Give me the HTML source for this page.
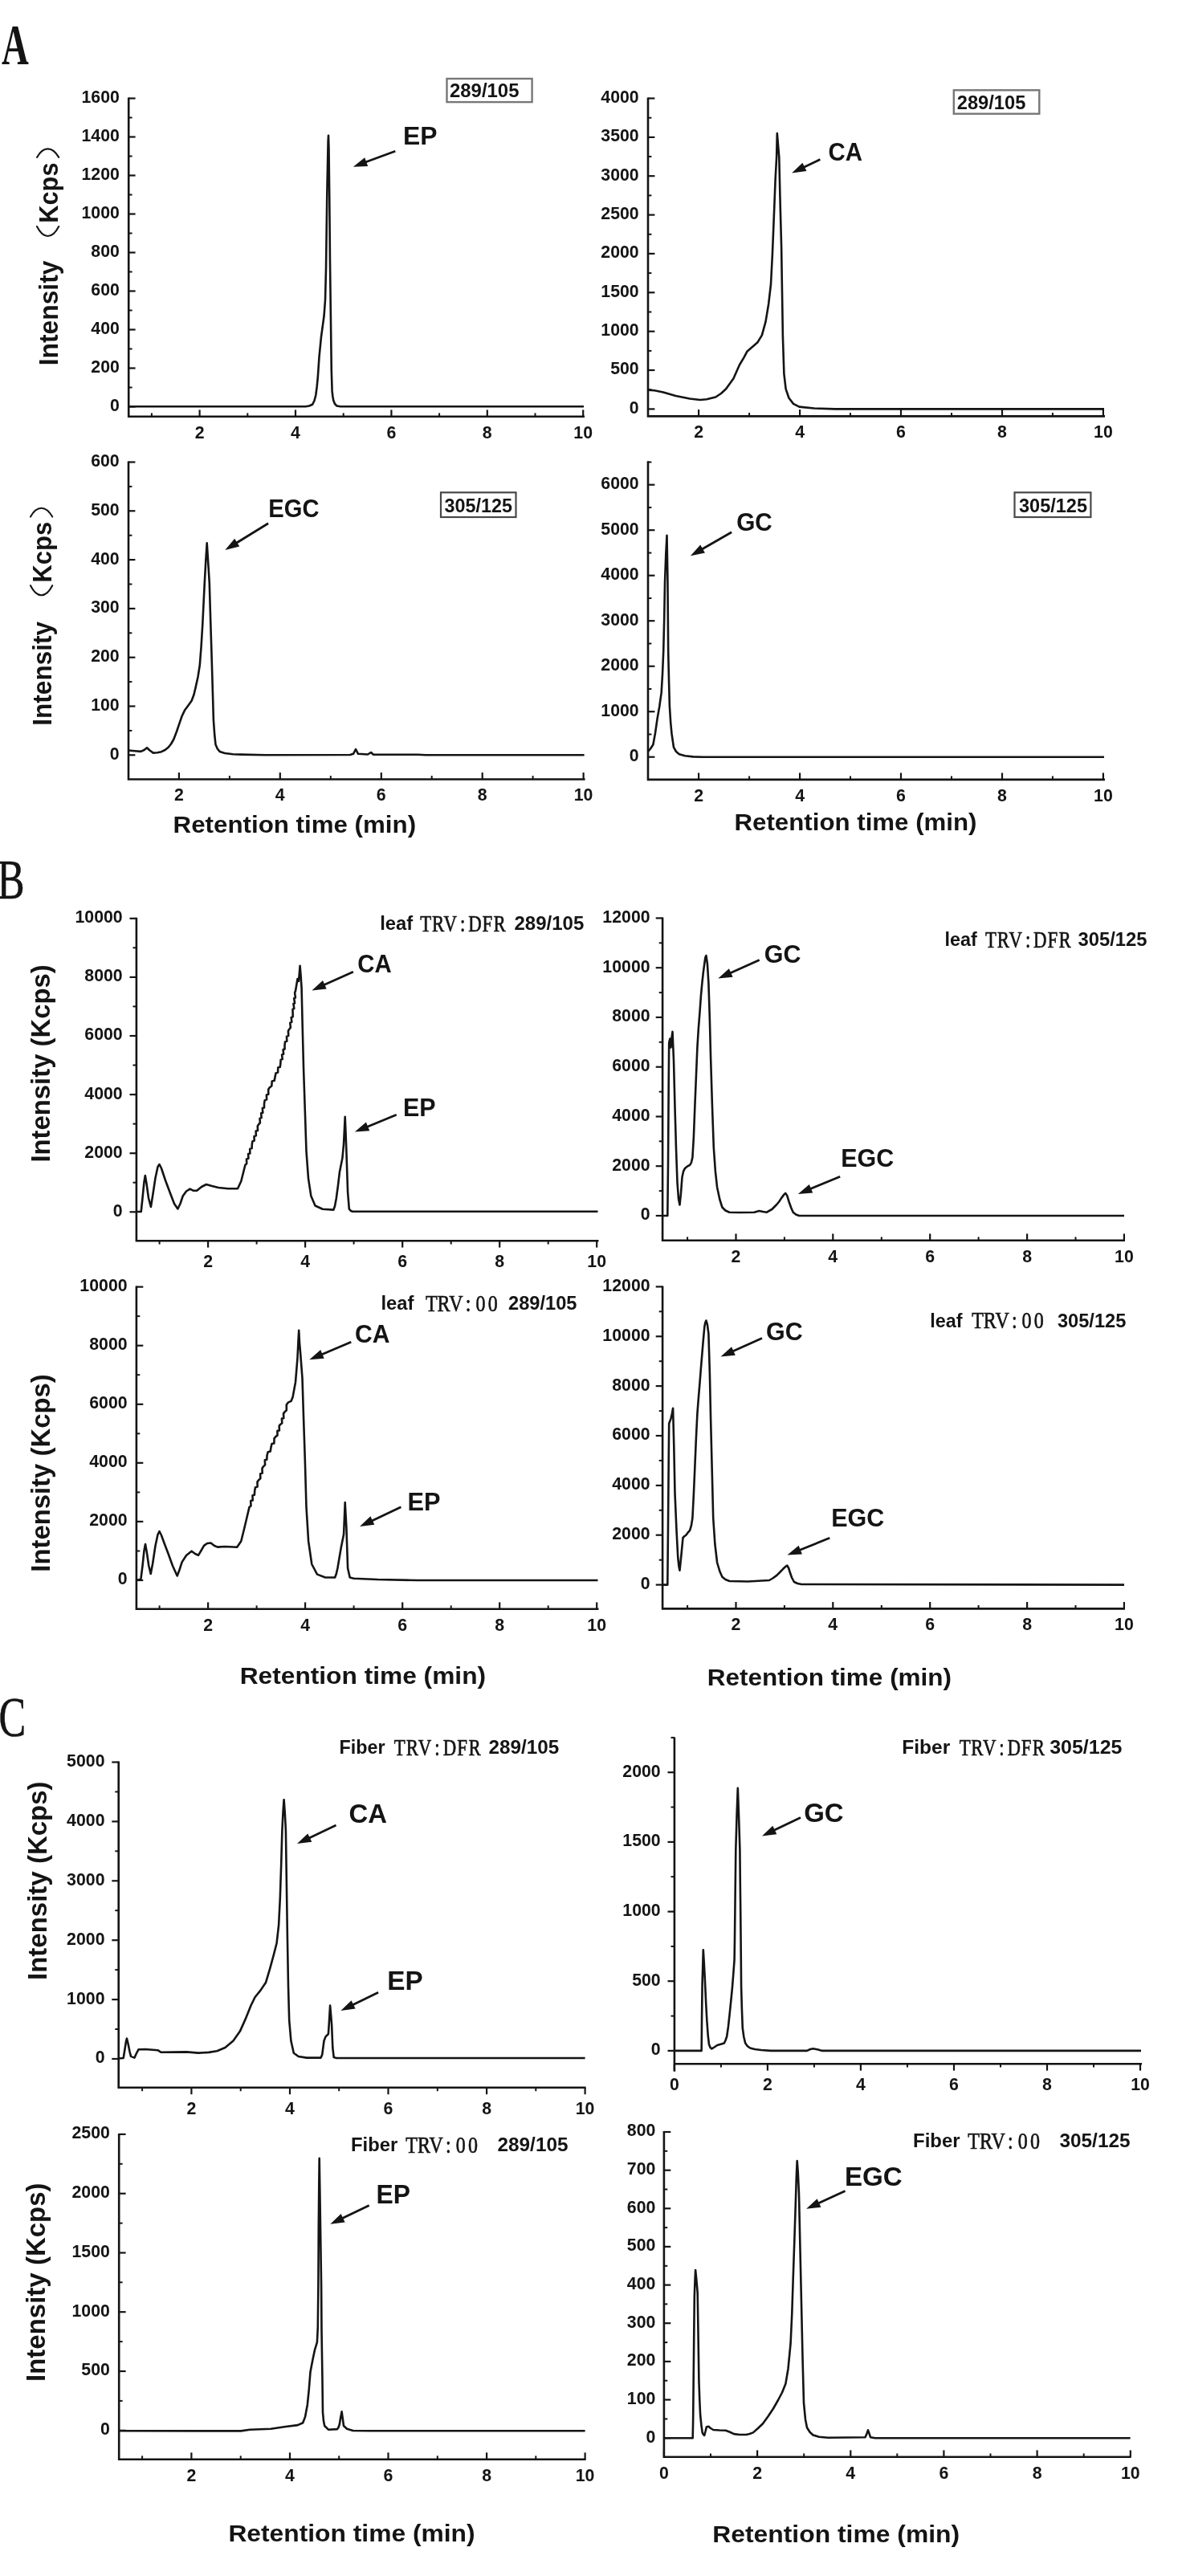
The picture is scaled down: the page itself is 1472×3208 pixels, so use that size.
<!DOCTYPE html>
<html><head><meta charset="utf-8"><title>Figure</title>
<style>
html,body{margin:0;padding:0;background:#fff;}
body{width:1472px;height:3208px;overflow:hidden;font-family:"Liberation Sans",sans-serif;}
svg{display:block;filter:blur(0.55px);}
text{fill:#141414;white-space:pre;}
</style></head><body>
<svg width="1472" height="3208" viewBox="0 0 1472 3208">
<rect width="1472" height="3208" fill="#fff"/>
<path d="M160.2 121.5V518.8M158.9 518.8H728" fill="none" stroke="#141414" stroke-width="2.6"/>
<line x1="160.2" x2="168.6" y1="122.5" y2="122.5" stroke="#141414" stroke-width="2.2"/>
<text x="148.9" y="127.9" font-size="21.3" text-anchor="end" font-weight="bold" font-family="Liberation Sans, sans-serif" >1600</text>
<line x1="160.2" x2="168.6" y1="170.5" y2="170.5" stroke="#141414" stroke-width="2.2"/>
<text x="148.9" y="175.9" font-size="21.3" text-anchor="end" font-weight="bold" font-family="Liberation Sans, sans-serif" >1400</text>
<line x1="160.2" x2="168.6" y1="218.5" y2="218.5" stroke="#141414" stroke-width="2.2"/>
<text x="148.9" y="223.9" font-size="21.3" text-anchor="end" font-weight="bold" font-family="Liberation Sans, sans-serif" >1200</text>
<line x1="160.2" x2="168.6" y1="266.5" y2="266.5" stroke="#141414" stroke-width="2.2"/>
<text x="148.9" y="271.9" font-size="21.3" text-anchor="end" font-weight="bold" font-family="Liberation Sans, sans-serif" >1000</text>
<line x1="160.2" x2="168.6" y1="314.5" y2="314.5" stroke="#141414" stroke-width="2.2"/>
<text x="148.9" y="319.9" font-size="21.3" text-anchor="end" font-weight="bold" font-family="Liberation Sans, sans-serif" >800</text>
<line x1="160.2" x2="168.6" y1="362.5" y2="362.5" stroke="#141414" stroke-width="2.2"/>
<text x="148.9" y="367.9" font-size="21.3" text-anchor="end" font-weight="bold" font-family="Liberation Sans, sans-serif" >600</text>
<line x1="160.2" x2="168.6" y1="410.5" y2="410.5" stroke="#141414" stroke-width="2.2"/>
<text x="148.9" y="415.9" font-size="21.3" text-anchor="end" font-weight="bold" font-family="Liberation Sans, sans-serif" >400</text>
<line x1="160.2" x2="168.6" y1="458.5" y2="458.5" stroke="#141414" stroke-width="2.2"/>
<text x="148.9" y="463.9" font-size="21.3" text-anchor="end" font-weight="bold" font-family="Liberation Sans, sans-serif" >200</text>
<line x1="160.2" x2="168.6" y1="506.5" y2="506.5" stroke="#141414" stroke-width="2.2"/>
<text x="148.9" y="511.9" font-size="21.3" text-anchor="end" font-weight="bold" font-family="Liberation Sans, sans-serif" >0</text>
<line x1="160.2" x2="164.6" y1="146.5" y2="146.5" stroke="#141414" stroke-width="2"/>
<line x1="160.2" x2="164.6" y1="194.5" y2="194.5" stroke="#141414" stroke-width="2"/>
<line x1="160.2" x2="164.6" y1="242.5" y2="242.5" stroke="#141414" stroke-width="2"/>
<line x1="160.2" x2="164.6" y1="290.5" y2="290.5" stroke="#141414" stroke-width="2"/>
<line x1="160.2" x2="164.6" y1="338.5" y2="338.5" stroke="#141414" stroke-width="2"/>
<line x1="160.2" x2="164.6" y1="386.5" y2="386.5" stroke="#141414" stroke-width="2"/>
<line x1="160.2" x2="164.6" y1="434.5" y2="434.5" stroke="#141414" stroke-width="2"/>
<line x1="160.2" x2="164.6" y1="482.5" y2="482.5" stroke="#141414" stroke-width="2"/>
<line x1="248.6" x2="248.6" y1="518.8" y2="510.4" stroke="#141414" stroke-width="2.2"/>
<text x="248.6" y="545.7" font-size="21.3" text-anchor="middle" font-weight="bold" font-family="Liberation Sans, sans-serif" >2</text>
<line x1="368" x2="368" y1="518.8" y2="510.4" stroke="#141414" stroke-width="2.2"/>
<text x="368" y="545.7" font-size="21.3" text-anchor="middle" font-weight="bold" font-family="Liberation Sans, sans-serif" >4</text>
<line x1="487.4" x2="487.4" y1="518.8" y2="510.4" stroke="#141414" stroke-width="2.2"/>
<text x="487.4" y="545.7" font-size="21.3" text-anchor="middle" font-weight="bold" font-family="Liberation Sans, sans-serif" >6</text>
<line x1="606.8" x2="606.8" y1="518.8" y2="510.4" stroke="#141414" stroke-width="2.2"/>
<text x="606.8" y="545.7" font-size="21.3" text-anchor="middle" font-weight="bold" font-family="Liberation Sans, sans-serif" >8</text>
<line x1="726.2" x2="726.2" y1="518.8" y2="510.4" stroke="#141414" stroke-width="2.2"/>
<text x="726.2" y="545.7" font-size="21.3" text-anchor="middle" font-weight="bold" font-family="Liberation Sans, sans-serif" >10</text>
<line x1="188.9" x2="188.9" y1="518.8" y2="514.4" stroke="#141414" stroke-width="2"/>
<line x1="308.3" x2="308.3" y1="518.8" y2="514.4" stroke="#141414" stroke-width="2"/>
<line x1="427.7" x2="427.7" y1="518.8" y2="514.4" stroke="#141414" stroke-width="2"/>
<line x1="547.1" x2="547.1" y1="518.8" y2="514.4" stroke="#141414" stroke-width="2"/>
<line x1="666.5" x2="666.5" y1="518.8" y2="514.4" stroke="#141414" stroke-width="2"/>
<polyline points="160.2,506.3 380.6,506.3 385,505.5 389,503.8 391.5,499 393.3,492 394.6,482 395.8,470 397.5,444.6 400,419.2 403.5,393.8 405,373.5 406,334.6 407.3,241.5 408.6,176 409,168.8 409.5,185 410.2,241.5 411,326 411.9,393.8 412.8,461.5 413.6,486.9 414.4,494 415.3,498.7 417,503 419.5,505.5 424,506.3 727,506.3" fill="none" stroke="#141414" stroke-width="2.6" stroke-linejoin="round" stroke-linecap="butt"/>
<line x1="492.3" y1="188.2" x2="454.3" y2="202.3" stroke="#141414" stroke-width="2.8"/>
<polygon points="439.8,207.7 454.2,196.2 458.2,207" fill="#141414"/>
<text x="502" y="179.5" font-size="32" text-anchor="start" font-weight="bold" font-family="Liberation Sans, sans-serif" textLength="42.5" lengthAdjust="spacingAndGlyphs" >EP</text>
<text x="560" y="121.3" font-size="24" text-anchor="start" font-weight="bold" font-family="Liberation Sans, sans-serif" textLength="86.5" lengthAdjust="spacingAndGlyphs" >289/105</text>
<rect x="556.5" y="98" width="106.1" height="29.1" fill="none" stroke="#777" stroke-width="2.4"/>
<path d="M807 121.5V518.4M805.7 518.4H1376" fill="none" stroke="#141414" stroke-width="2.6"/>
<line x1="807" x2="815.4" y1="122.5" y2="122.5" stroke="#141414" stroke-width="2.2"/>
<text x="795.7" y="127.9" font-size="21.3" text-anchor="end" font-weight="bold" font-family="Liberation Sans, sans-serif" >4000</text>
<line x1="807" x2="815.4" y1="170.9" y2="170.9" stroke="#141414" stroke-width="2.2"/>
<text x="795.7" y="176.3" font-size="21.3" text-anchor="end" font-weight="bold" font-family="Liberation Sans, sans-serif" >3500</text>
<line x1="807" x2="815.4" y1="219.2" y2="219.2" stroke="#141414" stroke-width="2.2"/>
<text x="795.7" y="224.6" font-size="21.3" text-anchor="end" font-weight="bold" font-family="Liberation Sans, sans-serif" >3000</text>
<line x1="807" x2="815.4" y1="267.6" y2="267.6" stroke="#141414" stroke-width="2.2"/>
<text x="795.7" y="273" font-size="21.3" text-anchor="end" font-weight="bold" font-family="Liberation Sans, sans-serif" >2500</text>
<line x1="807" x2="815.4" y1="315.9" y2="315.9" stroke="#141414" stroke-width="2.2"/>
<text x="795.7" y="321.3" font-size="21.3" text-anchor="end" font-weight="bold" font-family="Liberation Sans, sans-serif" >2000</text>
<line x1="807" x2="815.4" y1="364.3" y2="364.3" stroke="#141414" stroke-width="2.2"/>
<text x="795.7" y="369.7" font-size="21.3" text-anchor="end" font-weight="bold" font-family="Liberation Sans, sans-serif" >1500</text>
<line x1="807" x2="815.4" y1="412.7" y2="412.7" stroke="#141414" stroke-width="2.2"/>
<text x="795.7" y="418.1" font-size="21.3" text-anchor="end" font-weight="bold" font-family="Liberation Sans, sans-serif" >1000</text>
<line x1="807" x2="815.4" y1="461" y2="461" stroke="#141414" stroke-width="2.2"/>
<text x="795.7" y="466.4" font-size="21.3" text-anchor="end" font-weight="bold" font-family="Liberation Sans, sans-serif" >500</text>
<line x1="807" x2="815.4" y1="509.4" y2="509.4" stroke="#141414" stroke-width="2.2"/>
<text x="795.7" y="514.8" font-size="21.3" text-anchor="end" font-weight="bold" font-family="Liberation Sans, sans-serif" >0</text>
<line x1="807" x2="811.4" y1="146.7" y2="146.7" stroke="#141414" stroke-width="2"/>
<line x1="807" x2="811.4" y1="195" y2="195" stroke="#141414" stroke-width="2"/>
<line x1="807" x2="811.4" y1="243.4" y2="243.4" stroke="#141414" stroke-width="2"/>
<line x1="807" x2="811.4" y1="291.8" y2="291.8" stroke="#141414" stroke-width="2"/>
<line x1="807" x2="811.4" y1="340.1" y2="340.1" stroke="#141414" stroke-width="2"/>
<line x1="807" x2="811.4" y1="388.5" y2="388.5" stroke="#141414" stroke-width="2"/>
<line x1="807" x2="811.4" y1="436.9" y2="436.9" stroke="#141414" stroke-width="2"/>
<line x1="807" x2="811.4" y1="485.2" y2="485.2" stroke="#141414" stroke-width="2"/>
<line x1="870.1" x2="870.1" y1="518.4" y2="510" stroke="#141414" stroke-width="2.2"/>
<text x="870.1" y="545.3" font-size="21.3" text-anchor="middle" font-weight="bold" font-family="Liberation Sans, sans-serif" >2</text>
<line x1="996.1" x2="996.1" y1="518.4" y2="510" stroke="#141414" stroke-width="2.2"/>
<text x="996.1" y="545.3" font-size="21.3" text-anchor="middle" font-weight="bold" font-family="Liberation Sans, sans-serif" >4</text>
<line x1="1122" x2="1122" y1="518.4" y2="510" stroke="#141414" stroke-width="2.2"/>
<text x="1122" y="545.3" font-size="21.3" text-anchor="middle" font-weight="bold" font-family="Liberation Sans, sans-serif" >6</text>
<line x1="1248" x2="1248" y1="518.4" y2="510" stroke="#141414" stroke-width="2.2"/>
<text x="1248" y="545.3" font-size="21.3" text-anchor="middle" font-weight="bold" font-family="Liberation Sans, sans-serif" >8</text>
<line x1="1373.9" x2="1373.9" y1="518.4" y2="510" stroke="#141414" stroke-width="2.2"/>
<text x="1373.9" y="545.3" font-size="21.3" text-anchor="middle" font-weight="bold" font-family="Liberation Sans, sans-serif" >10</text>
<line x1="933.1" x2="933.1" y1="518.4" y2="514" stroke="#141414" stroke-width="2"/>
<line x1="1059" x2="1059" y1="518.4" y2="514" stroke="#141414" stroke-width="2"/>
<line x1="1185" x2="1185" y1="518.4" y2="514" stroke="#141414" stroke-width="2"/>
<line x1="1310.9" x2="1310.9" y1="518.4" y2="514" stroke="#141414" stroke-width="2"/>
<polyline points="807,485.6 815,486.2 826,488.5 841.5,493 859,496.5 872,498 880,497.3 891.2,494.5 898,490 904.2,484.3 913.5,471.3 920.9,454.5 926.5,445.2 930.3,437.8 935.8,433.1 943.3,426.6 948.9,417.3 953.5,400.6 957.2,378.2 960,354 961.9,316.8 963.8,270.3 965.6,223.8 967.1,195.8 967.8,166 968.8,178 970.3,195.8 971.6,251.7 973.1,307.5 974,363.3 974.9,419.2 976.4,465.7 978.6,484.3 982.4,495.5 988,502.9 995.4,506.6 1014,508.5 1040,509.4 1375,509.4" fill="none" stroke="#141414" stroke-width="2.6" stroke-linejoin="round" stroke-linecap="butt"/>
<line x1="1021.4" y1="198.6" x2="1000.1" y2="208.7" stroke="#141414" stroke-width="2.8"/>
<polygon points="986.1,215.4 999.4,202.7 1004.4,213.1" fill="#141414"/>
<text x="1031.5" y="199.6" font-size="31" text-anchor="start" font-weight="bold" font-family="Liberation Sans, sans-serif" textLength="42.5" lengthAdjust="spacingAndGlyphs" >CA</text>
<text x="1191.8" y="135.5" font-size="24" text-anchor="start" font-weight="bold" font-family="Liberation Sans, sans-serif" textLength="85.5" lengthAdjust="spacingAndGlyphs" >289/105</text>
<rect x="1187.8" y="112.3" width="106.5" height="29.4" fill="none" stroke="#777" stroke-width="2.4"/>
<path d="M160 574.5V970.5M158.7 970.5H728.6" fill="none" stroke="#141414" stroke-width="2.6"/>
<line x1="160" x2="168.4" y1="575.5" y2="575.5" stroke="#141414" stroke-width="2.2"/>
<text x="148.7" y="580.9" font-size="21.3" text-anchor="end" font-weight="bold" font-family="Liberation Sans, sans-serif" >600</text>
<line x1="160" x2="168.4" y1="636.3" y2="636.3" stroke="#141414" stroke-width="2.2"/>
<text x="148.7" y="641.7" font-size="21.3" text-anchor="end" font-weight="bold" font-family="Liberation Sans, sans-serif" >500</text>
<line x1="160" x2="168.4" y1="697.1" y2="697.1" stroke="#141414" stroke-width="2.2"/>
<text x="148.7" y="702.5" font-size="21.3" text-anchor="end" font-weight="bold" font-family="Liberation Sans, sans-serif" >400</text>
<line x1="160" x2="168.4" y1="757.9" y2="757.9" stroke="#141414" stroke-width="2.2"/>
<text x="148.7" y="763.3" font-size="21.3" text-anchor="end" font-weight="bold" font-family="Liberation Sans, sans-serif" >300</text>
<line x1="160" x2="168.4" y1="818.7" y2="818.7" stroke="#141414" stroke-width="2.2"/>
<text x="148.7" y="824.1" font-size="21.3" text-anchor="end" font-weight="bold" font-family="Liberation Sans, sans-serif" >200</text>
<line x1="160" x2="168.4" y1="879.5" y2="879.5" stroke="#141414" stroke-width="2.2"/>
<text x="148.7" y="884.9" font-size="21.3" text-anchor="end" font-weight="bold" font-family="Liberation Sans, sans-serif" >100</text>
<line x1="160" x2="168.4" y1="940.3" y2="940.3" stroke="#141414" stroke-width="2.2"/>
<text x="148.7" y="945.7" font-size="21.3" text-anchor="end" font-weight="bold" font-family="Liberation Sans, sans-serif" >0</text>
<line x1="160" x2="164.4" y1="605.9" y2="605.9" stroke="#141414" stroke-width="2"/>
<line x1="160" x2="164.4" y1="666.7" y2="666.7" stroke="#141414" stroke-width="2"/>
<line x1="160" x2="164.4" y1="727.5" y2="727.5" stroke="#141414" stroke-width="2"/>
<line x1="160" x2="164.4" y1="788.3" y2="788.3" stroke="#141414" stroke-width="2"/>
<line x1="160" x2="164.4" y1="849.1" y2="849.1" stroke="#141414" stroke-width="2"/>
<line x1="160" x2="164.4" y1="909.9" y2="909.9" stroke="#141414" stroke-width="2"/>
<line x1="222.9" x2="222.9" y1="970.5" y2="962.1" stroke="#141414" stroke-width="2.2"/>
<text x="222.9" y="997.4" font-size="21.3" text-anchor="middle" font-weight="bold" font-family="Liberation Sans, sans-serif" >2</text>
<line x1="348.8" x2="348.8" y1="970.5" y2="962.1" stroke="#141414" stroke-width="2.2"/>
<text x="348.8" y="997.4" font-size="21.3" text-anchor="middle" font-weight="bold" font-family="Liberation Sans, sans-serif" >4</text>
<line x1="474.8" x2="474.8" y1="970.5" y2="962.1" stroke="#141414" stroke-width="2.2"/>
<text x="474.8" y="997.4" font-size="21.3" text-anchor="middle" font-weight="bold" font-family="Liberation Sans, sans-serif" >6</text>
<line x1="600.7" x2="600.7" y1="970.5" y2="962.1" stroke="#141414" stroke-width="2.2"/>
<text x="600.7" y="997.4" font-size="21.3" text-anchor="middle" font-weight="bold" font-family="Liberation Sans, sans-serif" >8</text>
<line x1="726.6" x2="726.6" y1="970.5" y2="962.1" stroke="#141414" stroke-width="2.2"/>
<text x="726.6" y="997.4" font-size="21.3" text-anchor="middle" font-weight="bold" font-family="Liberation Sans, sans-serif" >10</text>
<line x1="285.9" x2="285.9" y1="970.5" y2="966.1" stroke="#141414" stroke-width="2"/>
<line x1="411.8" x2="411.8" y1="970.5" y2="966.1" stroke="#141414" stroke-width="2"/>
<line x1="537.7" x2="537.7" y1="970.5" y2="966.1" stroke="#141414" stroke-width="2"/>
<line x1="663.6" x2="663.6" y1="970.5" y2="966.1" stroke="#141414" stroke-width="2"/>
<polyline points="160,934.5 168,935.3 175.4,935.9 179.5,934 183,931.2 186.5,934.5 190.8,937.6 196,937.3 201,936.2 205.5,934 209.6,930.7 213,926.5 216.4,920.5 220,911 223.2,901.7 226.5,892 230,884.6 234.5,878.5 238.6,872.7 241.5,865 243.7,855.6 246.5,843 248.8,828.3 250.6,805 252.3,777 253.6,750 254.8,725.8 256.3,698 257.7,676.3 259.2,700 260.8,725.8 262.1,770 263.4,811.2 264.7,855 265.9,896.6 267.2,915 268.5,927.3 270.8,932.5 273.6,935.9 280,938 290,939.3 300,939.6 330,940.3 436,940 440,938.8 443,933 446,938.8 458,939.5 462,937 465,939.8 520,939.8 530,940.3 727.6,940.3" fill="none" stroke="#141414" stroke-width="2.6" stroke-linejoin="round" stroke-linecap="butt"/>
<line x1="334.1" y1="651.8" x2="293.5" y2="676.8" stroke="#141414" stroke-width="2.8"/>
<polygon points="280.3,684.9 292.2,670.8 298.2,680.6" fill="#141414"/>
<text x="334.3" y="643.5" font-size="30.5" text-anchor="start" font-weight="bold" font-family="Liberation Sans, sans-serif" textLength="63.2" lengthAdjust="spacingAndGlyphs" >EGC</text>
<text x="553.5" y="638" font-size="24" text-anchor="start" font-weight="bold" font-family="Liberation Sans, sans-serif" textLength="84.5" lengthAdjust="spacingAndGlyphs" >305/125</text>
<rect x="549" y="613.3" width="93.5" height="30.7" fill="none" stroke="#484848" stroke-width="2.2"/>
<text x="215.6" y="1036.6" font-size="30" text-anchor="start" font-weight="bold" font-family="Liberation Sans, sans-serif" textLength="302.5" lengthAdjust="spacingAndGlyphs" >Retention time (min)</text>
<path d="M807 574.2V970.9M805.7 970.9H1376" fill="none" stroke="#141414" stroke-width="2.6"/>
<line x1="807" x2="815.4" y1="603.7" y2="603.7" stroke="#141414" stroke-width="2.2"/>
<text x="795.7" y="609.1" font-size="21.3" text-anchor="end" font-weight="bold" font-family="Liberation Sans, sans-serif" >6000</text>
<line x1="807" x2="815.4" y1="660.2" y2="660.2" stroke="#141414" stroke-width="2.2"/>
<text x="795.7" y="665.6" font-size="21.3" text-anchor="end" font-weight="bold" font-family="Liberation Sans, sans-serif" >5000</text>
<line x1="807" x2="815.4" y1="716.7" y2="716.7" stroke="#141414" stroke-width="2.2"/>
<text x="795.7" y="722.1" font-size="21.3" text-anchor="end" font-weight="bold" font-family="Liberation Sans, sans-serif" >4000</text>
<line x1="807" x2="815.4" y1="773.2" y2="773.2" stroke="#141414" stroke-width="2.2"/>
<text x="795.7" y="778.6" font-size="21.3" text-anchor="end" font-weight="bold" font-family="Liberation Sans, sans-serif" >3000</text>
<line x1="807" x2="815.4" y1="829.7" y2="829.7" stroke="#141414" stroke-width="2.2"/>
<text x="795.7" y="835.1" font-size="21.3" text-anchor="end" font-weight="bold" font-family="Liberation Sans, sans-serif" >2000</text>
<line x1="807" x2="815.4" y1="886.2" y2="886.2" stroke="#141414" stroke-width="2.2"/>
<text x="795.7" y="891.6" font-size="21.3" text-anchor="end" font-weight="bold" font-family="Liberation Sans, sans-serif" >1000</text>
<line x1="807" x2="815.4" y1="942.7" y2="942.7" stroke="#141414" stroke-width="2.2"/>
<text x="795.7" y="948.1" font-size="21.3" text-anchor="end" font-weight="bold" font-family="Liberation Sans, sans-serif" >0</text>
<line x1="807" x2="811.4" y1="575.5" y2="575.5" stroke="#141414" stroke-width="2"/>
<line x1="807" x2="811.4" y1="632" y2="632" stroke="#141414" stroke-width="2"/>
<line x1="807" x2="811.4" y1="688.5" y2="688.5" stroke="#141414" stroke-width="2"/>
<line x1="807" x2="811.4" y1="745" y2="745" stroke="#141414" stroke-width="2"/>
<line x1="807" x2="811.4" y1="801.5" y2="801.5" stroke="#141414" stroke-width="2"/>
<line x1="807" x2="811.4" y1="858" y2="858" stroke="#141414" stroke-width="2"/>
<line x1="807" x2="811.4" y1="914.5" y2="914.5" stroke="#141414" stroke-width="2"/>
<line x1="870.1" x2="870.1" y1="970.9" y2="962.5" stroke="#141414" stroke-width="2.2"/>
<text x="870.1" y="997.8" font-size="21.3" text-anchor="middle" font-weight="bold" font-family="Liberation Sans, sans-serif" >2</text>
<line x1="996.1" x2="996.1" y1="970.9" y2="962.5" stroke="#141414" stroke-width="2.2"/>
<text x="996.1" y="997.8" font-size="21.3" text-anchor="middle" font-weight="bold" font-family="Liberation Sans, sans-serif" >4</text>
<line x1="1122" x2="1122" y1="970.9" y2="962.5" stroke="#141414" stroke-width="2.2"/>
<text x="1122" y="997.8" font-size="21.3" text-anchor="middle" font-weight="bold" font-family="Liberation Sans, sans-serif" >6</text>
<line x1="1248" x2="1248" y1="970.9" y2="962.5" stroke="#141414" stroke-width="2.2"/>
<text x="1248" y="997.8" font-size="21.3" text-anchor="middle" font-weight="bold" font-family="Liberation Sans, sans-serif" >8</text>
<line x1="1373.9" x2="1373.9" y1="970.9" y2="962.5" stroke="#141414" stroke-width="2.2"/>
<text x="1373.9" y="997.8" font-size="21.3" text-anchor="middle" font-weight="bold" font-family="Liberation Sans, sans-serif" >10</text>
<line x1="933.1" x2="933.1" y1="970.9" y2="966.5" stroke="#141414" stroke-width="2"/>
<line x1="1059" x2="1059" y1="970.9" y2="966.5" stroke="#141414" stroke-width="2"/>
<line x1="1185" x2="1185" y1="970.9" y2="966.5" stroke="#141414" stroke-width="2"/>
<line x1="1310.9" x2="1310.9" y1="970.9" y2="966.5" stroke="#141414" stroke-width="2"/>
<polyline points="807,935.9 810,932.5 813.4,927.3 816,913 818.6,894.9 821.2,880 823.7,862.4 825,840 826.2,811.2 827.2,770 828,725.8 829.3,690 830.5,666.9 831.4,720 832.2,811.2 833.1,850 833.9,879.5 835.2,900 836.5,913.7 839,930.7 842,936 845.9,939.3 853,941.3 863,942.4 875,942.7 1375,942.7" fill="none" stroke="#141414" stroke-width="2.6" stroke-linejoin="round" stroke-linecap="butt"/>
<line x1="911.1" y1="662.8" x2="873.3" y2="684.5" stroke="#141414" stroke-width="2.8"/>
<polygon points="859.9,692.2 872.2,678.5 877.9,688.5" fill="#141414"/>
<text x="917.2" y="660.8" font-size="31" text-anchor="start" font-weight="bold" font-family="Liberation Sans, sans-serif" textLength="44.6" lengthAdjust="spacingAndGlyphs" >GC</text>
<text x="1269" y="638" font-size="24" text-anchor="start" font-weight="bold" font-family="Liberation Sans, sans-serif" textLength="85" lengthAdjust="spacingAndGlyphs" >305/125</text>
<rect x="1263.5" y="613.3" width="94.9" height="30.7" fill="none" stroke="#484848" stroke-width="2.2"/>
<text x="914.5" y="1034" font-size="30" text-anchor="start" font-weight="bold" font-family="Liberation Sans, sans-serif" textLength="302" lengthAdjust="spacingAndGlyphs" >Retention time (min)</text>
<path d="M169.9 1142.8V1545.2M168.6 1545.2H745.5" fill="none" stroke="#141414" stroke-width="2.6"/>
<line x1="169.9" x2="161.5" y1="1143.8" y2="1143.8" stroke="#141414" stroke-width="2.2"/>
<text x="152.7" y="1149.2" font-size="21.3" text-anchor="end" font-weight="bold" font-family="Liberation Sans, sans-serif" >10000</text>
<line x1="169.9" x2="161.5" y1="1216.9" y2="1216.9" stroke="#141414" stroke-width="2.2"/>
<text x="152.7" y="1222.3" font-size="21.3" text-anchor="end" font-weight="bold" font-family="Liberation Sans, sans-serif" >8000</text>
<line x1="169.9" x2="161.5" y1="1290" y2="1290" stroke="#141414" stroke-width="2.2"/>
<text x="152.7" y="1295.4" font-size="21.3" text-anchor="end" font-weight="bold" font-family="Liberation Sans, sans-serif" >6000</text>
<line x1="169.9" x2="161.5" y1="1363.1" y2="1363.1" stroke="#141414" stroke-width="2.2"/>
<text x="152.7" y="1368.5" font-size="21.3" text-anchor="end" font-weight="bold" font-family="Liberation Sans, sans-serif" >4000</text>
<line x1="169.9" x2="161.5" y1="1436.2" y2="1436.2" stroke="#141414" stroke-width="2.2"/>
<text x="152.7" y="1441.6" font-size="21.3" text-anchor="end" font-weight="bold" font-family="Liberation Sans, sans-serif" >2000</text>
<line x1="169.9" x2="161.5" y1="1509.3" y2="1509.3" stroke="#141414" stroke-width="2.2"/>
<text x="152.7" y="1514.7" font-size="21.3" text-anchor="end" font-weight="bold" font-family="Liberation Sans, sans-serif" >0</text>
<line x1="169.9" x2="165.5" y1="1180.3" y2="1180.3" stroke="#141414" stroke-width="2"/>
<line x1="169.9" x2="165.5" y1="1253.4" y2="1253.4" stroke="#141414" stroke-width="2"/>
<line x1="169.9" x2="165.5" y1="1326.5" y2="1326.5" stroke="#141414" stroke-width="2"/>
<line x1="169.9" x2="165.5" y1="1399.6" y2="1399.6" stroke="#141414" stroke-width="2"/>
<line x1="169.9" x2="165.5" y1="1472.7" y2="1472.7" stroke="#141414" stroke-width="2"/>
<line x1="259.1" x2="259.1" y1="1545.2" y2="1553.6" stroke="#141414" stroke-width="2.2"/>
<text x="259.1" y="1578.2" font-size="21.3" text-anchor="middle" font-weight="bold" font-family="Liberation Sans, sans-serif" >2</text>
<line x1="380.1" x2="380.1" y1="1545.2" y2="1553.6" stroke="#141414" stroke-width="2.2"/>
<text x="380.1" y="1578.2" font-size="21.3" text-anchor="middle" font-weight="bold" font-family="Liberation Sans, sans-serif" >4</text>
<line x1="501.2" x2="501.2" y1="1545.2" y2="1553.6" stroke="#141414" stroke-width="2.2"/>
<text x="501.2" y="1578.2" font-size="21.3" text-anchor="middle" font-weight="bold" font-family="Liberation Sans, sans-serif" >6</text>
<line x1="622.2" x2="622.2" y1="1545.2" y2="1553.6" stroke="#141414" stroke-width="2.2"/>
<text x="622.2" y="1578.2" font-size="21.3" text-anchor="middle" font-weight="bold" font-family="Liberation Sans, sans-serif" >8</text>
<line x1="743.2" x2="743.2" y1="1545.2" y2="1553.6" stroke="#141414" stroke-width="2.2"/>
<text x="743.2" y="1578.2" font-size="21.3" text-anchor="middle" font-weight="bold" font-family="Liberation Sans, sans-serif" >10</text>
<line x1="198.6" x2="198.6" y1="1545.2" y2="1549.6" stroke="#141414" stroke-width="2"/>
<line x1="319.6" x2="319.6" y1="1545.2" y2="1549.6" stroke="#141414" stroke-width="2"/>
<line x1="440.6" x2="440.6" y1="1545.2" y2="1549.6" stroke="#141414" stroke-width="2"/>
<line x1="561.7" x2="561.7" y1="1545.2" y2="1549.6" stroke="#141414" stroke-width="2"/>
<line x1="682.7" x2="682.7" y1="1545.2" y2="1549.6" stroke="#141414" stroke-width="2"/>
<polyline points="169.9,1509 175.7,1509 177.5,1492 179.5,1472 180.8,1464 182.5,1474 185,1492 187.9,1503 190,1490 193.5,1467 196.5,1453 198.5,1450 201,1455 206,1470 212,1486 217,1499 221.4,1505.5 224.5,1499 227.7,1489.5 232,1483.5 236.6,1480.6 241,1482.8 245.5,1482.6 251,1478 256.9,1475 264,1477 272,1479 284,1480.3 296,1480.3 300.3,1471 305.4,1450.7 307.2,1449.1 307,1443.4 309.4,1442.8 309.1,1437 311.4,1436.4 311.2,1430.7 313.6,1430.1 313.8,1425.3 314.4,1421.2 316.7,1420.6 316.5,1414.9 318.9,1414.2 318.6,1408.5 321,1407.9 320.8,1402.2 322.3,1400 323.9,1398.4 323.5,1392.7 325.6,1392.1 325.2,1386.3 327.3,1385.7 326.8,1380 329,1379.4 329,1374.6 329.7,1370.3 332.1,1369.4 331.9,1363.5 334.3,1362.7 334.2,1356.7 335.8,1354.3 338.3,1352.5 338.7,1346.5 341.7,1345.7 342.6,1340.7 343.5,1336.4 346.1,1335.5 346.2,1329.6 348.8,1328.8 349.4,1323.8 349.6,1319.7 351.7,1319.1 351.1,1313.4 353.1,1312.8 352.6,1307.1 354.6,1306.5 354.5,1301.8 355,1297.5 357.3,1296.6 357,1290.7 359.2,1289.9 358.9,1283.9 360.4,1281.5 361.9,1279.7 361.3,1273.8 363.3,1272.9 362.7,1267 364.7,1266.2 364.6,1261.2 364.5,1256.8 366.3,1256 365.4,1250 367.1,1249.2 366.2,1243.2 367.9,1242.4 367.1,1236.4 368,1234 370.5,1219 372,1222 373.6,1202.8 374.6,1215 375.6,1230.8 376.8,1281.5 378.1,1332.3 379.8,1383 381.5,1433.8 384,1467.6 387.4,1489.6 392.5,1501.5 401.8,1505.7 415.4,1506.6 417,1502 418.7,1493 421,1476 423,1459.2 426.4,1442.3 428,1425.3 429.7,1390.7 430.5,1410 431.4,1433.8 433.1,1484.6 434.8,1505.7 437,1508 439,1508.7 744.5,1508.7" fill="none" stroke="#141414" stroke-width="2.6" stroke-linejoin="round" stroke-linecap="butt"/>
<line x1="439.9" y1="1210.2" x2="402.5" y2="1227" stroke="#141414" stroke-width="2.8"/>
<polygon points="388.4,1233.4 402,1221 406.7,1231.5" fill="#141414"/>
<line x1="493.7" y1="1388.3" x2="456.2" y2="1403.7" stroke="#141414" stroke-width="2.8"/>
<polygon points="441.9,1409.6 455.9,1397.6 460.3,1408.3" fill="#141414"/>
<text x="445.2" y="1210.6" font-size="31.5" text-anchor="start" font-weight="bold" font-family="Liberation Sans, sans-serif" textLength="42.4" lengthAdjust="spacingAndGlyphs" >CA</text>
<text x="502" y="1390.3" font-size="31.5" text-anchor="start" font-weight="bold" font-family="Liberation Sans, sans-serif" textLength="40.6" lengthAdjust="spacingAndGlyphs" >EP</text>
<path d="M825.1 1142.4V1544.8M823.8 1544.8H1401" fill="none" stroke="#141414" stroke-width="2.6"/>
<line x1="825.1" x2="816.7" y1="1143.4" y2="1143.4" stroke="#141414" stroke-width="2.2"/>
<text x="809.6" y="1148.8" font-size="21.3" text-anchor="end" font-weight="bold" font-family="Liberation Sans, sans-serif" >12000</text>
<line x1="825.1" x2="816.7" y1="1205.2" y2="1205.2" stroke="#141414" stroke-width="2.2"/>
<text x="809.6" y="1210.6" font-size="21.3" text-anchor="end" font-weight="bold" font-family="Liberation Sans, sans-serif" >10000</text>
<line x1="825.1" x2="816.7" y1="1266.9" y2="1266.9" stroke="#141414" stroke-width="2.2"/>
<text x="809.6" y="1272.3" font-size="21.3" text-anchor="end" font-weight="bold" font-family="Liberation Sans, sans-serif" >8000</text>
<line x1="825.1" x2="816.7" y1="1328.7" y2="1328.7" stroke="#141414" stroke-width="2.2"/>
<text x="809.6" y="1334.1" font-size="21.3" text-anchor="end" font-weight="bold" font-family="Liberation Sans, sans-serif" >6000</text>
<line x1="825.1" x2="816.7" y1="1390.5" y2="1390.5" stroke="#141414" stroke-width="2.2"/>
<text x="809.6" y="1395.9" font-size="21.3" text-anchor="end" font-weight="bold" font-family="Liberation Sans, sans-serif" >4000</text>
<line x1="825.1" x2="816.7" y1="1452.2" y2="1452.2" stroke="#141414" stroke-width="2.2"/>
<text x="809.6" y="1457.6" font-size="21.3" text-anchor="end" font-weight="bold" font-family="Liberation Sans, sans-serif" >2000</text>
<line x1="825.1" x2="816.7" y1="1514" y2="1514" stroke="#141414" stroke-width="2.2"/>
<text x="809.6" y="1519.4" font-size="21.3" text-anchor="end" font-weight="bold" font-family="Liberation Sans, sans-serif" >0</text>
<line x1="825.1" x2="820.7" y1="1174.3" y2="1174.3" stroke="#141414" stroke-width="2"/>
<line x1="825.1" x2="820.7" y1="1236.1" y2="1236.1" stroke="#141414" stroke-width="2"/>
<line x1="825.1" x2="820.7" y1="1297.8" y2="1297.8" stroke="#141414" stroke-width="2"/>
<line x1="825.1" x2="820.7" y1="1359.6" y2="1359.6" stroke="#141414" stroke-width="2"/>
<line x1="825.1" x2="820.7" y1="1421.3" y2="1421.3" stroke="#141414" stroke-width="2"/>
<line x1="825.1" x2="820.7" y1="1483.1" y2="1483.1" stroke="#141414" stroke-width="2"/>
<line x1="916.5" x2="916.5" y1="1544.8" y2="1536.4" stroke="#141414" stroke-width="2.2"/>
<text x="916.5" y="1571.7" font-size="21.3" text-anchor="middle" font-weight="bold" font-family="Liberation Sans, sans-serif" >2</text>
<line x1="1037.3" x2="1037.3" y1="1544.8" y2="1536.4" stroke="#141414" stroke-width="2.2"/>
<text x="1037.3" y="1571.7" font-size="21.3" text-anchor="middle" font-weight="bold" font-family="Liberation Sans, sans-serif" >4</text>
<line x1="1158.2" x2="1158.2" y1="1544.8" y2="1536.4" stroke="#141414" stroke-width="2.2"/>
<text x="1158.2" y="1571.7" font-size="21.3" text-anchor="middle" font-weight="bold" font-family="Liberation Sans, sans-serif" >6</text>
<line x1="1279.1" x2="1279.1" y1="1544.8" y2="1536.4" stroke="#141414" stroke-width="2.2"/>
<text x="1279.1" y="1571.7" font-size="21.3" text-anchor="middle" font-weight="bold" font-family="Liberation Sans, sans-serif" >8</text>
<line x1="1399.9" x2="1399.9" y1="1544.8" y2="1536.4" stroke="#141414" stroke-width="2.2"/>
<text x="1399.9" y="1571.7" font-size="21.3" text-anchor="middle" font-weight="bold" font-family="Liberation Sans, sans-serif" >10</text>
<line x1="856.1" x2="856.1" y1="1544.8" y2="1540.4" stroke="#141414" stroke-width="2"/>
<line x1="976.9" x2="976.9" y1="1544.8" y2="1540.4" stroke="#141414" stroke-width="2"/>
<line x1="1097.8" x2="1097.8" y1="1544.8" y2="1540.4" stroke="#141414" stroke-width="2"/>
<line x1="1218.6" x2="1218.6" y1="1544.8" y2="1540.4" stroke="#141414" stroke-width="2"/>
<line x1="1339.5" x2="1339.5" y1="1544.8" y2="1540.4" stroke="#141414" stroke-width="2"/>
<polyline points="825.1,1514 831.3,1514 832,1450.8 832.7,1350.6 833.2,1298.5 834.4,1293.5 835.5,1304.5 836.5,1292.5 837.5,1284.9 839,1320.5 840.5,1379.4 842,1430.8 843.5,1472.5 845,1492.9 846.5,1500.4 848,1485.9 849.5,1465.9 851,1458.9 853,1454.9 855.4,1452.9 859.1,1450.8 860.9,1447.8 862.4,1441.4 863.9,1415.8 865.3,1379.4 866.9,1340.6 868.4,1304.5 869.9,1280.4 871.4,1261.4 872.9,1240.3 874.4,1224.2 875.9,1210.3 877.4,1199.2 878.4,1192.2 879.4,1190 880.9,1200.2 882.4,1224.3 883.9,1270.4 885.1,1317.2 886.9,1375.7 888.8,1428.8 890.9,1458.9 893.1,1478.7 896.4,1494 899.4,1503.5 903.4,1507.5 908.4,1509.7 921.3,1510 939.3,1509.7 945.3,1508 950.3,1509 954.9,1509.7 961.3,1506 967.3,1500 970.2,1496.5 973.2,1491.9 976.2,1487.9 978.2,1485.9 980.2,1488.9 982.7,1497 985.2,1504 987.7,1509.7 991.2,1512.5 995.2,1514 1400,1514" fill="none" stroke="#141414" stroke-width="2.6" stroke-linejoin="round" stroke-linecap="butt"/>
<line x1="945.7" y1="1195.5" x2="908.4" y2="1212.2" stroke="#141414" stroke-width="2.8"/>
<polygon points="894.3,1218.6 907.9,1206.2 912.6,1216.7" fill="#141414"/>
<line x1="1046.2" y1="1465.2" x2="1008.1" y2="1481" stroke="#141414" stroke-width="2.8"/>
<polygon points="993.8,1486.9 1007.8,1474.9 1012.2,1485.5" fill="#141414"/>
<text x="951.8" y="1198.6" font-size="31.5" text-anchor="start" font-weight="bold" font-family="Liberation Sans, sans-serif" textLength="45.7" lengthAdjust="spacingAndGlyphs" >GC</text>
<text x="1047.2" y="1453.4" font-size="31.5" text-anchor="start" font-weight="bold" font-family="Liberation Sans, sans-serif" textLength="66" lengthAdjust="spacingAndGlyphs" >EGC</text>
<path d="M169.9 1601.6V2003.8M168.6 2003.8H745.5" fill="none" stroke="#141414" stroke-width="2.6"/>
<line x1="169.9" x2="178.3" y1="1602.6" y2="1602.6" stroke="#141414" stroke-width="2.2"/>
<text x="158.6" y="1608" font-size="21.3" text-anchor="end" font-weight="bold" font-family="Liberation Sans, sans-serif" >10000</text>
<line x1="169.9" x2="178.3" y1="1675.7" y2="1675.7" stroke="#141414" stroke-width="2.2"/>
<text x="158.6" y="1681.1" font-size="21.3" text-anchor="end" font-weight="bold" font-family="Liberation Sans, sans-serif" >8000</text>
<line x1="169.9" x2="178.3" y1="1748.8" y2="1748.8" stroke="#141414" stroke-width="2.2"/>
<text x="158.6" y="1754.2" font-size="21.3" text-anchor="end" font-weight="bold" font-family="Liberation Sans, sans-serif" >6000</text>
<line x1="169.9" x2="178.3" y1="1821.8" y2="1821.8" stroke="#141414" stroke-width="2.2"/>
<text x="158.6" y="1827.2" font-size="21.3" text-anchor="end" font-weight="bold" font-family="Liberation Sans, sans-serif" >4000</text>
<line x1="169.9" x2="178.3" y1="1894.9" y2="1894.9" stroke="#141414" stroke-width="2.2"/>
<text x="158.6" y="1900.3" font-size="21.3" text-anchor="end" font-weight="bold" font-family="Liberation Sans, sans-serif" >2000</text>
<line x1="169.9" x2="178.3" y1="1968" y2="1968" stroke="#141414" stroke-width="2.2"/>
<text x="158.6" y="1973.4" font-size="21.3" text-anchor="end" font-weight="bold" font-family="Liberation Sans, sans-serif" >0</text>
<line x1="169.9" x2="174.3" y1="1639.1" y2="1639.1" stroke="#141414" stroke-width="2"/>
<line x1="169.9" x2="174.3" y1="1712.2" y2="1712.2" stroke="#141414" stroke-width="2"/>
<line x1="169.9" x2="174.3" y1="1785.3" y2="1785.3" stroke="#141414" stroke-width="2"/>
<line x1="169.9" x2="174.3" y1="1858.4" y2="1858.4" stroke="#141414" stroke-width="2"/>
<line x1="169.9" x2="174.3" y1="1931.5" y2="1931.5" stroke="#141414" stroke-width="2"/>
<line x1="259.1" x2="259.1" y1="2003.8" y2="1995.4" stroke="#141414" stroke-width="2.2"/>
<text x="259.1" y="2030.7" font-size="21.3" text-anchor="middle" font-weight="bold" font-family="Liberation Sans, sans-serif" >2</text>
<line x1="380.1" x2="380.1" y1="2003.8" y2="1995.4" stroke="#141414" stroke-width="2.2"/>
<text x="380.1" y="2030.7" font-size="21.3" text-anchor="middle" font-weight="bold" font-family="Liberation Sans, sans-serif" >4</text>
<line x1="501.2" x2="501.2" y1="2003.8" y2="1995.4" stroke="#141414" stroke-width="2.2"/>
<text x="501.2" y="2030.7" font-size="21.3" text-anchor="middle" font-weight="bold" font-family="Liberation Sans, sans-serif" >6</text>
<line x1="622.2" x2="622.2" y1="2003.8" y2="1995.4" stroke="#141414" stroke-width="2.2"/>
<text x="622.2" y="2030.7" font-size="21.3" text-anchor="middle" font-weight="bold" font-family="Liberation Sans, sans-serif" >8</text>
<line x1="743.2" x2="743.2" y1="2003.8" y2="1995.4" stroke="#141414" stroke-width="2.2"/>
<text x="743.2" y="2030.7" font-size="21.3" text-anchor="middle" font-weight="bold" font-family="Liberation Sans, sans-serif" >10</text>
<line x1="198.6" x2="198.6" y1="2003.8" y2="1999.4" stroke="#141414" stroke-width="2"/>
<line x1="319.6" x2="319.6" y1="2003.8" y2="1999.4" stroke="#141414" stroke-width="2"/>
<line x1="440.6" x2="440.6" y1="2003.8" y2="1999.4" stroke="#141414" stroke-width="2"/>
<line x1="561.7" x2="561.7" y1="2003.8" y2="1999.4" stroke="#141414" stroke-width="2"/>
<line x1="682.7" x2="682.7" y1="2003.8" y2="1999.4" stroke="#141414" stroke-width="2"/>
<polyline points="169.9,1968 175.4,1966.7 177.5,1950 179.5,1931 181,1923 182.8,1933 185.3,1950 187.7,1960 190,1948 193.5,1925 196.5,1911 198.5,1907 201,1912 205,1923 209.6,1935 215,1950 220.7,1962.5 223.5,1955 226.6,1945.4 232,1937 238.6,1931.7 243,1935 247,1936.8 250.5,1931 254,1924.9 258,1922 262.5,1921.5 267,1925 271,1926.6 280,1926 295.2,1926.8 300.3,1919.2 304.5,1902.3 310.5,1876.9 312.5,1875.2 312.2,1869.1 314.7,1868.5 314.5,1862.3 316.9,1861.7 317.2,1856.6 318,1852.2 320.6,1851.5 320.5,1845.4 322.3,1843 324.3,1841.3 324.2,1835.2 326.7,1834.6 326.5,1828.5 328.2,1826.1 330.1,1824.4 329.8,1818.3 332.3,1817.7 332.5,1812.6 333.7,1808.2 336.7,1807.5 337.5,1802.4 338.5,1798 341.4,1797.4 341.5,1791.3 343.5,1788.9 345.5,1787.6 345.4,1781.8 347.9,1781.5 347.7,1775.7 349.4,1773.7 351.3,1772.3 350.9,1766.6 353.3,1766.2 353,1760.4 354.5,1758.4 356.8,1756.2 356.8,1749.5 358.7,1746.6 362.5,1744.9 364.6,1739.8 368,1721.2 370.5,1690.8 371.4,1672 372.2,1656.9 373,1672 373.9,1682.3 376.5,1716.1 378.1,1766.9 379.8,1817.7 381.5,1876.9 384.1,1919.2 388.3,1948 395,1960.6 405.2,1964.5 417.1,1964.5 418.8,1960 420.4,1953 424.7,1927.6 428.1,1910.7 429.7,1871 430.5,1886 431.4,1902.3 433.1,1953 435.7,1964.5 440.7,1965.7 470,1967 520,1968 744.5,1968" fill="none" stroke="#141414" stroke-width="2.6" stroke-linejoin="round" stroke-linecap="butt"/>
<line x1="437.3" y1="1671.2" x2="399.6" y2="1687.2" stroke="#141414" stroke-width="2.8"/>
<polygon points="385.3,1693.2 399.2,1681.1 403.7,1691.7" fill="#141414"/>
<line x1="499.4" y1="1876.7" x2="462" y2="1894.4" stroke="#141414" stroke-width="2.8"/>
<polygon points="448,1901 461.4,1888.3 466.3,1898.7" fill="#141414"/>
<text x="441.9" y="1671.6" font-size="31.5" text-anchor="start" font-weight="bold" font-family="Liberation Sans, sans-serif" textLength="43.5" lengthAdjust="spacingAndGlyphs" >CA</text>
<text x="507.5" y="1880.8" font-size="31.5" text-anchor="start" font-weight="bold" font-family="Liberation Sans, sans-serif" textLength="41" lengthAdjust="spacingAndGlyphs" >EP</text>
<text x="298.7" y="2097.4" font-size="30" text-anchor="start" font-weight="bold" font-family="Liberation Sans, sans-serif" textLength="306.4" lengthAdjust="spacingAndGlyphs" >Retention time (min)</text>
<path d="M825.1 1601.4V2003.4M823.8 2003.4H1401" fill="none" stroke="#141414" stroke-width="2.6"/>
<line x1="825.1" x2="816.7" y1="1602.4" y2="1602.4" stroke="#141414" stroke-width="2.2"/>
<text x="809.6" y="1607.8" font-size="21.3" text-anchor="end" font-weight="bold" font-family="Liberation Sans, sans-serif" >12000</text>
<line x1="825.1" x2="816.7" y1="1664.3" y2="1664.3" stroke="#141414" stroke-width="2.2"/>
<text x="809.6" y="1669.7" font-size="21.3" text-anchor="end" font-weight="bold" font-family="Liberation Sans, sans-serif" >10000</text>
<line x1="825.1" x2="816.7" y1="1726.1" y2="1726.1" stroke="#141414" stroke-width="2.2"/>
<text x="809.6" y="1731.5" font-size="21.3" text-anchor="end" font-weight="bold" font-family="Liberation Sans, sans-serif" >8000</text>
<line x1="825.1" x2="816.7" y1="1788" y2="1788" stroke="#141414" stroke-width="2.2"/>
<text x="809.6" y="1793.4" font-size="21.3" text-anchor="end" font-weight="bold" font-family="Liberation Sans, sans-serif" >6000</text>
<line x1="825.1" x2="816.7" y1="1849.9" y2="1849.9" stroke="#141414" stroke-width="2.2"/>
<text x="809.6" y="1855.3" font-size="21.3" text-anchor="end" font-weight="bold" font-family="Liberation Sans, sans-serif" >4000</text>
<line x1="825.1" x2="816.7" y1="1911.7" y2="1911.7" stroke="#141414" stroke-width="2.2"/>
<text x="809.6" y="1917.1" font-size="21.3" text-anchor="end" font-weight="bold" font-family="Liberation Sans, sans-serif" >2000</text>
<line x1="825.1" x2="816.7" y1="1973.6" y2="1973.6" stroke="#141414" stroke-width="2.2"/>
<text x="809.6" y="1979" font-size="21.3" text-anchor="end" font-weight="bold" font-family="Liberation Sans, sans-serif" >0</text>
<line x1="825.1" x2="820.7" y1="1633.3" y2="1633.3" stroke="#141414" stroke-width="2"/>
<line x1="825.1" x2="820.7" y1="1695.2" y2="1695.2" stroke="#141414" stroke-width="2"/>
<line x1="825.1" x2="820.7" y1="1757.1" y2="1757.1" stroke="#141414" stroke-width="2"/>
<line x1="825.1" x2="820.7" y1="1818.9" y2="1818.9" stroke="#141414" stroke-width="2"/>
<line x1="825.1" x2="820.7" y1="1880.8" y2="1880.8" stroke="#141414" stroke-width="2"/>
<line x1="825.1" x2="820.7" y1="1942.7" y2="1942.7" stroke="#141414" stroke-width="2"/>
<line x1="916.5" x2="916.5" y1="2003.4" y2="1995" stroke="#141414" stroke-width="2.2"/>
<text x="916.5" y="2030.3" font-size="21.3" text-anchor="middle" font-weight="bold" font-family="Liberation Sans, sans-serif" >2</text>
<line x1="1037.3" x2="1037.3" y1="2003.4" y2="1995" stroke="#141414" stroke-width="2.2"/>
<text x="1037.3" y="2030.3" font-size="21.3" text-anchor="middle" font-weight="bold" font-family="Liberation Sans, sans-serif" >4</text>
<line x1="1158.2" x2="1158.2" y1="2003.4" y2="1995" stroke="#141414" stroke-width="2.2"/>
<text x="1158.2" y="2030.3" font-size="21.3" text-anchor="middle" font-weight="bold" font-family="Liberation Sans, sans-serif" >6</text>
<line x1="1279.1" x2="1279.1" y1="2003.4" y2="1995" stroke="#141414" stroke-width="2.2"/>
<text x="1279.1" y="2030.3" font-size="21.3" text-anchor="middle" font-weight="bold" font-family="Liberation Sans, sans-serif" >8</text>
<line x1="1399.9" x2="1399.9" y1="2003.4" y2="1995" stroke="#141414" stroke-width="2.2"/>
<text x="1399.9" y="2030.3" font-size="21.3" text-anchor="middle" font-weight="bold" font-family="Liberation Sans, sans-serif" >10</text>
<line x1="856.1" x2="856.1" y1="2003.4" y2="1999" stroke="#141414" stroke-width="2"/>
<line x1="976.9" x2="976.9" y1="2003.4" y2="1999" stroke="#141414" stroke-width="2"/>
<line x1="1097.8" x2="1097.8" y1="2003.4" y2="1999" stroke="#141414" stroke-width="2"/>
<line x1="1218.6" x2="1218.6" y1="2003.4" y2="1999" stroke="#141414" stroke-width="2"/>
<line x1="1339.5" x2="1339.5" y1="2003.4" y2="1999" stroke="#141414" stroke-width="2"/>
<polyline points="825.1,1973.6 831.3,1973.6 832,1900.9 832.7,1820.9 833.2,1772.8 835.5,1766.6 836.8,1760.8 838.1,1753.8 839.3,1800.9 840.5,1859.6 842.5,1905.9 844.3,1940 845.5,1951 846.5,1955.7 848.5,1936 850.5,1915 852.5,1913 854.1,1912 856.4,1908.9 859.1,1905.9 860.9,1899.9 862.4,1890.5 863.9,1860.9 865.3,1828.6 866.9,1790.9 868.4,1760.4 869.9,1740.8 871.4,1722.8 872.9,1703.8 874.4,1685.8 875.9,1667.8 877.4,1651.7 878.4,1646.7 879.4,1644.5 880.9,1649.7 882.4,1661.2 883.9,1710.8 885.1,1766.6 886.7,1830.9 888.2,1890.5 890.4,1923 893.1,1946 896.4,1957 899.4,1963.7 903.4,1967 908.4,1969 931.3,1969.5 958,1968 962.3,1965.5 967.3,1961.9 971.2,1958 975.2,1953.8 978.2,1951 980.2,1949.5 982.2,1953 984,1958.8 986.2,1965 988.9,1970 993.2,1972 998.2,1973 1400,1973.6" fill="none" stroke="#141414" stroke-width="2.6" stroke-linejoin="round" stroke-linecap="butt"/>
<line x1="949" y1="1666.5" x2="911.6" y2="1683.3" stroke="#141414" stroke-width="2.8"/>
<polygon points="897.5,1689.6 911.1,1677.2 915.8,1687.7" fill="#141414"/>
<line x1="1033.3" y1="1915.3" x2="994.9" y2="1930.8" stroke="#141414" stroke-width="2.8"/>
<polygon points="980.5,1936.6 994.6,1924.7 998.9,1935.4" fill="#141414"/>
<text x="954.1" y="1668.6" font-size="31.5" text-anchor="start" font-weight="bold" font-family="Liberation Sans, sans-serif" textLength="45.7" lengthAdjust="spacingAndGlyphs" >GC</text>
<text x="1035.3" y="1901" font-size="31.5" text-anchor="start" font-weight="bold" font-family="Liberation Sans, sans-serif" textLength="66" lengthAdjust="spacingAndGlyphs" >EGC</text>
<text x="880.7" y="2098.8" font-size="30" text-anchor="start" font-weight="bold" font-family="Liberation Sans, sans-serif" textLength="304.4" lengthAdjust="spacingAndGlyphs" >Retention time (min)</text>
<path d="M147.7 2193.5V2599.8M146.4 2599.8H729.6" fill="none" stroke="#141414" stroke-width="2.6"/>
<line x1="147.7" x2="139.3" y1="2194.5" y2="2194.5" stroke="#141414" stroke-width="2.2"/>
<text x="130.5" y="2199.9" font-size="21.3" text-anchor="end" font-weight="bold" font-family="Liberation Sans, sans-serif" >5000</text>
<line x1="147.7" x2="139.3" y1="2268.4" y2="2268.4" stroke="#141414" stroke-width="2.2"/>
<text x="130.5" y="2273.8" font-size="21.3" text-anchor="end" font-weight="bold" font-family="Liberation Sans, sans-serif" >4000</text>
<line x1="147.7" x2="139.3" y1="2342.3" y2="2342.3" stroke="#141414" stroke-width="2.2"/>
<text x="130.5" y="2347.7" font-size="21.3" text-anchor="end" font-weight="bold" font-family="Liberation Sans, sans-serif" >3000</text>
<line x1="147.7" x2="139.3" y1="2416.2" y2="2416.2" stroke="#141414" stroke-width="2.2"/>
<text x="130.5" y="2421.6" font-size="21.3" text-anchor="end" font-weight="bold" font-family="Liberation Sans, sans-serif" >2000</text>
<line x1="147.7" x2="139.3" y1="2490.1" y2="2490.1" stroke="#141414" stroke-width="2.2"/>
<text x="130.5" y="2495.5" font-size="21.3" text-anchor="end" font-weight="bold" font-family="Liberation Sans, sans-serif" >1000</text>
<line x1="147.7" x2="139.3" y1="2564" y2="2564" stroke="#141414" stroke-width="2.2"/>
<text x="130.5" y="2569.4" font-size="21.3" text-anchor="end" font-weight="bold" font-family="Liberation Sans, sans-serif" >0</text>
<line x1="147.7" x2="143.3" y1="2231.4" y2="2231.4" stroke="#141414" stroke-width="2"/>
<line x1="147.7" x2="143.3" y1="2305.3" y2="2305.3" stroke="#141414" stroke-width="2"/>
<line x1="147.7" x2="143.3" y1="2379.2" y2="2379.2" stroke="#141414" stroke-width="2"/>
<line x1="147.7" x2="143.3" y1="2453.1" y2="2453.1" stroke="#141414" stroke-width="2"/>
<line x1="147.7" x2="143.3" y1="2527" y2="2527" stroke="#141414" stroke-width="2"/>
<line x1="238.4" x2="238.4" y1="2599.8" y2="2608.2" stroke="#141414" stroke-width="2.2"/>
<text x="238.4" y="2632.8" font-size="21.3" text-anchor="middle" font-weight="bold" font-family="Liberation Sans, sans-serif" >2</text>
<line x1="361" x2="361" y1="2599.8" y2="2608.2" stroke="#141414" stroke-width="2.2"/>
<text x="361" y="2632.8" font-size="21.3" text-anchor="middle" font-weight="bold" font-family="Liberation Sans, sans-serif" >4</text>
<line x1="483.5" x2="483.5" y1="2599.8" y2="2608.2" stroke="#141414" stroke-width="2.2"/>
<text x="483.5" y="2632.8" font-size="21.3" text-anchor="middle" font-weight="bold" font-family="Liberation Sans, sans-serif" >6</text>
<line x1="606.1" x2="606.1" y1="2599.8" y2="2608.2" stroke="#141414" stroke-width="2.2"/>
<text x="606.1" y="2632.8" font-size="21.3" text-anchor="middle" font-weight="bold" font-family="Liberation Sans, sans-serif" >8</text>
<line x1="728.6" x2="728.6" y1="2599.8" y2="2608.2" stroke="#141414" stroke-width="2.2"/>
<text x="728.6" y="2632.8" font-size="21.3" text-anchor="middle" font-weight="bold" font-family="Liberation Sans, sans-serif" >10</text>
<line x1="177.1" x2="177.1" y1="2599.8" y2="2604.2" stroke="#141414" stroke-width="2"/>
<line x1="299.7" x2="299.7" y1="2599.8" y2="2604.2" stroke="#141414" stroke-width="2"/>
<line x1="422.2" x2="422.2" y1="2599.8" y2="2604.2" stroke="#141414" stroke-width="2"/>
<line x1="544.8" x2="544.8" y1="2599.8" y2="2604.2" stroke="#141414" stroke-width="2"/>
<line x1="667.3" x2="667.3" y1="2599.8" y2="2604.2" stroke="#141414" stroke-width="2"/>
<polyline points="147.7,2563.5 153.7,2563 155.3,2553 157,2542 158,2538.7 159.5,2545 161.5,2555 163,2560.9 167.4,2562.6 170,2557 172.5,2552.3 181,2552 196.4,2553.2 200.7,2555.8 232.3,2555.4 247,2556.6 260,2555.9 270.2,2554.2 280.3,2550 290.5,2541.5 298.9,2529.6 305.7,2514.4 312.5,2497.5 317.5,2487.3 324.3,2478.9 331.1,2468.7 336.1,2451.8 341.2,2433.2 344.6,2419.7 347.1,2397.7 348.8,2363.8 350.2,2321.5 351.4,2279.2 352.6,2255 353.6,2241.2 354.8,2258 355.9,2279.2 356.8,2338.4 357.8,2406.1 359,2473.8 360.2,2516.1 362.4,2541.5 365.8,2556.7 371.7,2561 381.8,2562.6 399.6,2562.6 401.3,2558.4 403.5,2541.5 405.5,2536.4 408.9,2533 409.7,2521.2 411.1,2497.5 412.2,2510 413.1,2521.2 414.3,2550 415.7,2562.1 419,2563 728.6,2563" fill="none" stroke="#141414" stroke-width="2.6" stroke-linejoin="round" stroke-linecap="butt"/>
<line x1="418.5" y1="2273" x2="384" y2="2289.4" stroke="#141414" stroke-width="2.8"/>
<polygon points="370,2296.1 383.3,2283.4 388.3,2293.8" fill="#141414"/>
<line x1="471.1" y1="2481.2" x2="438.3" y2="2497.3" stroke="#141414" stroke-width="2.8"/>
<polygon points="424.4,2504.1 437.6,2491.2 442.6,2501.6" fill="#141414"/>
<text x="434.6" y="2270.4" font-size="33.5" text-anchor="start" font-weight="bold" font-family="Liberation Sans, sans-serif" textLength="47.5" lengthAdjust="spacingAndGlyphs" >CA</text>
<text x="482.3" y="2477.7" font-size="33.5" text-anchor="start" font-weight="bold" font-family="Liberation Sans, sans-serif" textLength="44.5" lengthAdjust="spacingAndGlyphs" >EP</text>
<path d="M839.9 2163.5V2579.7M838.6 2570.2H1422" fill="none" stroke="#141414" stroke-width="2.6"/>
<line x1="839.9" x2="831.5" y1="2207.2" y2="2207.2" stroke="#141414" stroke-width="2.2"/>
<text x="822.7" y="2212.6" font-size="21.3" text-anchor="end" font-weight="bold" font-family="Liberation Sans, sans-serif" >2000</text>
<line x1="839.9" x2="831.5" y1="2293.9" y2="2293.9" stroke="#141414" stroke-width="2.2"/>
<text x="822.7" y="2299.3" font-size="21.3" text-anchor="end" font-weight="bold" font-family="Liberation Sans, sans-serif" >1500</text>
<line x1="839.9" x2="831.5" y1="2380.6" y2="2380.6" stroke="#141414" stroke-width="2.2"/>
<text x="822.7" y="2386" font-size="21.3" text-anchor="end" font-weight="bold" font-family="Liberation Sans, sans-serif" >1000</text>
<line x1="839.9" x2="831.5" y1="2467.2" y2="2467.2" stroke="#141414" stroke-width="2.2"/>
<text x="822.7" y="2472.6" font-size="21.3" text-anchor="end" font-weight="bold" font-family="Liberation Sans, sans-serif" >500</text>
<line x1="839.9" x2="831.5" y1="2553.9" y2="2553.9" stroke="#141414" stroke-width="2.2"/>
<text x="822.7" y="2559.3" font-size="21.3" text-anchor="end" font-weight="bold" font-family="Liberation Sans, sans-serif" >0</text>
<line x1="839.9" x2="835.5" y1="2163.9" y2="2163.9" stroke="#141414" stroke-width="2"/>
<line x1="839.9" x2="835.5" y1="2250.5" y2="2250.5" stroke="#141414" stroke-width="2"/>
<line x1="839.9" x2="835.5" y1="2337.2" y2="2337.2" stroke="#141414" stroke-width="2"/>
<line x1="839.9" x2="835.5" y1="2423.9" y2="2423.9" stroke="#141414" stroke-width="2"/>
<line x1="839.9" x2="835.5" y1="2510.6" y2="2510.6" stroke="#141414" stroke-width="2"/>
<line x1="839.9" x2="839.9" y1="2570.2" y2="2578.6" stroke="#141414" stroke-width="2.2"/>
<text x="839.9" y="2603.2" font-size="21.3" text-anchor="middle" font-weight="bold" font-family="Liberation Sans, sans-serif" >0</text>
<line x1="955.9" x2="955.9" y1="2570.2" y2="2578.6" stroke="#141414" stroke-width="2.2"/>
<text x="955.9" y="2603.2" font-size="21.3" text-anchor="middle" font-weight="bold" font-family="Liberation Sans, sans-serif" >2</text>
<line x1="1071.9" x2="1071.9" y1="2570.2" y2="2578.6" stroke="#141414" stroke-width="2.2"/>
<text x="1071.9" y="2603.2" font-size="21.3" text-anchor="middle" font-weight="bold" font-family="Liberation Sans, sans-serif" >4</text>
<line x1="1188" x2="1188" y1="2570.2" y2="2578.6" stroke="#141414" stroke-width="2.2"/>
<text x="1188" y="2603.2" font-size="21.3" text-anchor="middle" font-weight="bold" font-family="Liberation Sans, sans-serif" >6</text>
<line x1="1304" x2="1304" y1="2570.2" y2="2578.6" stroke="#141414" stroke-width="2.2"/>
<text x="1304" y="2603.2" font-size="21.3" text-anchor="middle" font-weight="bold" font-family="Liberation Sans, sans-serif" >8</text>
<line x1="1420" x2="1420" y1="2570.2" y2="2578.6" stroke="#141414" stroke-width="2.2"/>
<text x="1420" y="2603.2" font-size="21.3" text-anchor="middle" font-weight="bold" font-family="Liberation Sans, sans-serif" >10</text>
<line x1="897.9" x2="897.9" y1="2570.2" y2="2574.6" stroke="#141414" stroke-width="2"/>
<line x1="1013.9" x2="1013.9" y1="2570.2" y2="2574.6" stroke="#141414" stroke-width="2"/>
<line x1="1130" x2="1130" y1="2570.2" y2="2574.6" stroke="#141414" stroke-width="2"/>
<line x1="1246" x2="1246" y1="2570.2" y2="2574.6" stroke="#141414" stroke-width="2"/>
<line x1="1362" x2="1362" y1="2570.2" y2="2574.6" stroke="#141414" stroke-width="2"/>
<polyline points="839.9,2553.9 873.6,2553.9 873.8,2540 874,2517 874.6,2470 875.8,2428.4 876.8,2445 877.9,2466 879.2,2495 880.4,2517 881.7,2535 883,2546 884.6,2550 886.4,2551.4 889.5,2549.5 893.2,2547 897.5,2545.8 901.8,2544.5 903.5,2541 905.2,2536 906.9,2524 908.6,2508.7 910.3,2492 912,2474.5 913.3,2458 914.6,2440.3 915,2415 915.4,2380.6 915.8,2345 916.3,2303.7 917.5,2262 918.8,2226.9 920.1,2262 921.4,2303.7 921.8,2345 922.3,2389 922.7,2430 923.1,2474.5 923.9,2502 924.8,2525.7 926.4,2537 928.2,2544.5 931,2548.2 934.2,2550.5 940,2552 947.9,2553 960,2553.9 1005,2553.9 1009,2552 1012.5,2551.3 1018,2552.3 1024,2553.9 1421,2553.9" fill="none" stroke="#141414" stroke-width="2.6" stroke-linejoin="round" stroke-linecap="butt"/>
<line x1="997" y1="2263.6" x2="963" y2="2279.8" stroke="#141414" stroke-width="2.8"/>
<polygon points="949,2286.5 962.3,2273.8 967.3,2284.2" fill="#141414"/>
<text x="1001.2" y="2269" font-size="33.5" text-anchor="start" font-weight="bold" font-family="Liberation Sans, sans-serif" textLength="49.4" lengthAdjust="spacingAndGlyphs" >GC</text>
<path d="M148.2 2656.9V3062.7M146.9 3062.7H729.6" fill="none" stroke="#141414" stroke-width="2.6"/>
<line x1="148.2" x2="156.6" y1="2657.9" y2="2657.9" stroke="#141414" stroke-width="2.2"/>
<text x="136.9" y="2663.3" font-size="21.3" text-anchor="end" font-weight="bold" font-family="Liberation Sans, sans-serif" >2500</text>
<line x1="148.2" x2="156.6" y1="2731.7" y2="2731.7" stroke="#141414" stroke-width="2.2"/>
<text x="136.9" y="2737.1" font-size="21.3" text-anchor="end" font-weight="bold" font-family="Liberation Sans, sans-serif" >2000</text>
<line x1="148.2" x2="156.6" y1="2805.5" y2="2805.5" stroke="#141414" stroke-width="2.2"/>
<text x="136.9" y="2810.9" font-size="21.3" text-anchor="end" font-weight="bold" font-family="Liberation Sans, sans-serif" >1500</text>
<line x1="148.2" x2="156.6" y1="2879.2" y2="2879.2" stroke="#141414" stroke-width="2.2"/>
<text x="136.9" y="2884.6" font-size="21.3" text-anchor="end" font-weight="bold" font-family="Liberation Sans, sans-serif" >1000</text>
<line x1="148.2" x2="156.6" y1="2953" y2="2953" stroke="#141414" stroke-width="2.2"/>
<text x="136.9" y="2958.4" font-size="21.3" text-anchor="end" font-weight="bold" font-family="Liberation Sans, sans-serif" >500</text>
<line x1="148.2" x2="156.6" y1="3026.8" y2="3026.8" stroke="#141414" stroke-width="2.2"/>
<text x="136.9" y="3032.2" font-size="21.3" text-anchor="end" font-weight="bold" font-family="Liberation Sans, sans-serif" >0</text>
<line x1="148.2" x2="152.6" y1="2694.8" y2="2694.8" stroke="#141414" stroke-width="2"/>
<line x1="148.2" x2="152.6" y1="2768.6" y2="2768.6" stroke="#141414" stroke-width="2"/>
<line x1="148.2" x2="152.6" y1="2842.3" y2="2842.3" stroke="#141414" stroke-width="2"/>
<line x1="148.2" x2="152.6" y1="2916.1" y2="2916.1" stroke="#141414" stroke-width="2"/>
<line x1="148.2" x2="152.6" y1="2989.9" y2="2989.9" stroke="#141414" stroke-width="2"/>
<line x1="238.4" x2="238.4" y1="3062.7" y2="3054.3" stroke="#141414" stroke-width="2.2"/>
<text x="238.4" y="3089.6" font-size="21.3" text-anchor="middle" font-weight="bold" font-family="Liberation Sans, sans-serif" >2</text>
<line x1="361" x2="361" y1="3062.7" y2="3054.3" stroke="#141414" stroke-width="2.2"/>
<text x="361" y="3089.6" font-size="21.3" text-anchor="middle" font-weight="bold" font-family="Liberation Sans, sans-serif" >4</text>
<line x1="483.5" x2="483.5" y1="3062.7" y2="3054.3" stroke="#141414" stroke-width="2.2"/>
<text x="483.5" y="3089.6" font-size="21.3" text-anchor="middle" font-weight="bold" font-family="Liberation Sans, sans-serif" >6</text>
<line x1="606.1" x2="606.1" y1="3062.7" y2="3054.3" stroke="#141414" stroke-width="2.2"/>
<text x="606.1" y="3089.6" font-size="21.3" text-anchor="middle" font-weight="bold" font-family="Liberation Sans, sans-serif" >8</text>
<line x1="728.6" x2="728.6" y1="3062.7" y2="3054.3" stroke="#141414" stroke-width="2.2"/>
<text x="728.6" y="3089.6" font-size="21.3" text-anchor="middle" font-weight="bold" font-family="Liberation Sans, sans-serif" >10</text>
<line x1="177.1" x2="177.1" y1="3062.7" y2="3058.3" stroke="#141414" stroke-width="2"/>
<line x1="299.7" x2="299.7" y1="3062.7" y2="3058.3" stroke="#141414" stroke-width="2"/>
<line x1="422.2" x2="422.2" y1="3062.7" y2="3058.3" stroke="#141414" stroke-width="2"/>
<line x1="544.8" x2="544.8" y1="3062.7" y2="3058.3" stroke="#141414" stroke-width="2"/>
<line x1="667.3" x2="667.3" y1="3062.7" y2="3058.3" stroke="#141414" stroke-width="2"/>
<polyline points="148.2,3027.2 300,3027.4 311.2,3025.7 337.2,3024.8 355.8,3022 370.7,3020.1 377.2,3017.3 380,3009.9 382.8,2995 384.7,2976.4 386.5,2954.1 389.3,2939.2 392.1,2926.1 394.9,2916.8 395.8,2898.2 396.4,2846.1 396.8,2771.7 397.3,2720 397.7,2687.9 398.3,2725 399,2771.7 400.1,2846.1 400.5,2901.9 401.4,2957.8 402,3004.3 403,3015 404.2,3021 408.9,3025.7 420,3025.1 421.5,3023 422.8,3019.2 424.3,3010 425.6,3003.4 426.8,3012 428,3021 432.1,3024.8 439.6,3027 460,3027.3 728.6,3027.3" fill="none" stroke="#141414" stroke-width="2.6" stroke-linejoin="round" stroke-linecap="butt"/>
<line x1="459.7" y1="2746.5" x2="425.3" y2="2763.1" stroke="#141414" stroke-width="2.8"/>
<polygon points="411.3,2769.8 424.6,2757 429.6,2767.4" fill="#141414"/>
<text x="468.6" y="2743.8" font-size="32.5" text-anchor="start" font-weight="bold" font-family="Liberation Sans, sans-serif" textLength="42.5" lengthAdjust="spacingAndGlyphs" >EP</text>
<text x="284.4" y="3165.3" font-size="30" text-anchor="start" font-weight="bold" font-family="Liberation Sans, sans-serif" textLength="307.2" lengthAdjust="spacingAndGlyphs" >Retention time (min)</text>
<path d="M826.9 2654V3059.8M825.6 3059.8H1408.6" fill="none" stroke="#141414" stroke-width="2.6"/>
<line x1="826.9" x2="835.3" y1="2655" y2="2655" stroke="#141414" stroke-width="2.2"/>
<text x="816.4" y="2660.4" font-size="21.3" text-anchor="end" font-weight="bold" font-family="Liberation Sans, sans-serif" >800</text>
<line x1="826.9" x2="835.3" y1="2702.7" y2="2702.7" stroke="#141414" stroke-width="2.2"/>
<text x="816.4" y="2708.1" font-size="21.3" text-anchor="end" font-weight="bold" font-family="Liberation Sans, sans-serif" >700</text>
<line x1="826.9" x2="835.3" y1="2750.3" y2="2750.3" stroke="#141414" stroke-width="2.2"/>
<text x="816.4" y="2755.7" font-size="21.3" text-anchor="end" font-weight="bold" font-family="Liberation Sans, sans-serif" >600</text>
<line x1="826.9" x2="835.3" y1="2797.9" y2="2797.9" stroke="#141414" stroke-width="2.2"/>
<text x="816.4" y="2803.3" font-size="21.3" text-anchor="end" font-weight="bold" font-family="Liberation Sans, sans-serif" >500</text>
<line x1="826.9" x2="835.3" y1="2845.6" y2="2845.6" stroke="#141414" stroke-width="2.2"/>
<text x="816.4" y="2851" font-size="21.3" text-anchor="end" font-weight="bold" font-family="Liberation Sans, sans-serif" >400</text>
<line x1="826.9" x2="835.3" y1="2893.2" y2="2893.2" stroke="#141414" stroke-width="2.2"/>
<text x="816.4" y="2898.7" font-size="21.3" text-anchor="end" font-weight="bold" font-family="Liberation Sans, sans-serif" >300</text>
<line x1="826.9" x2="835.3" y1="2940.9" y2="2940.9" stroke="#141414" stroke-width="2.2"/>
<text x="816.4" y="2946.3" font-size="21.3" text-anchor="end" font-weight="bold" font-family="Liberation Sans, sans-serif" >200</text>
<line x1="826.9" x2="835.3" y1="2988.5" y2="2988.5" stroke="#141414" stroke-width="2.2"/>
<text x="816.4" y="2993.9" font-size="21.3" text-anchor="end" font-weight="bold" font-family="Liberation Sans, sans-serif" >100</text>
<line x1="826.9" x2="835.3" y1="3036.2" y2="3036.2" stroke="#141414" stroke-width="2.2"/>
<text x="816.4" y="3041.6" font-size="21.3" text-anchor="end" font-weight="bold" font-family="Liberation Sans, sans-serif" >0</text>
<line x1="826.9" x2="831.3" y1="2678.8" y2="2678.8" stroke="#141414" stroke-width="2"/>
<line x1="826.9" x2="831.3" y1="2726.5" y2="2726.5" stroke="#141414" stroke-width="2"/>
<line x1="826.9" x2="831.3" y1="2774.1" y2="2774.1" stroke="#141414" stroke-width="2"/>
<line x1="826.9" x2="831.3" y1="2821.8" y2="2821.8" stroke="#141414" stroke-width="2"/>
<line x1="826.9" x2="831.3" y1="2869.4" y2="2869.4" stroke="#141414" stroke-width="2"/>
<line x1="826.9" x2="831.3" y1="2917.1" y2="2917.1" stroke="#141414" stroke-width="2"/>
<line x1="826.9" x2="831.3" y1="2964.7" y2="2964.7" stroke="#141414" stroke-width="2"/>
<line x1="826.9" x2="831.3" y1="3012.4" y2="3012.4" stroke="#141414" stroke-width="2"/>
<line x1="826.9" x2="826.9" y1="3059.8" y2="3051.4" stroke="#141414" stroke-width="2.2"/>
<text x="826.9" y="3086.7" font-size="21.3" text-anchor="middle" font-weight="bold" font-family="Liberation Sans, sans-serif" >0</text>
<line x1="943.1" x2="943.1" y1="3059.8" y2="3051.4" stroke="#141414" stroke-width="2.2"/>
<text x="943.1" y="3086.7" font-size="21.3" text-anchor="middle" font-weight="bold" font-family="Liberation Sans, sans-serif" >2</text>
<line x1="1059.3" x2="1059.3" y1="3059.8" y2="3051.4" stroke="#141414" stroke-width="2.2"/>
<text x="1059.3" y="3086.7" font-size="21.3" text-anchor="middle" font-weight="bold" font-family="Liberation Sans, sans-serif" >4</text>
<line x1="1175.4" x2="1175.4" y1="3059.8" y2="3051.4" stroke="#141414" stroke-width="2.2"/>
<text x="1175.4" y="3086.7" font-size="21.3" text-anchor="middle" font-weight="bold" font-family="Liberation Sans, sans-serif" >6</text>
<line x1="1291.6" x2="1291.6" y1="3059.8" y2="3051.4" stroke="#141414" stroke-width="2.2"/>
<text x="1291.6" y="3086.7" font-size="21.3" text-anchor="middle" font-weight="bold" font-family="Liberation Sans, sans-serif" >8</text>
<line x1="1407.8" x2="1407.8" y1="3059.8" y2="3051.4" stroke="#141414" stroke-width="2.2"/>
<text x="1407.8" y="3086.7" font-size="21.3" text-anchor="middle" font-weight="bold" font-family="Liberation Sans, sans-serif" >10</text>
<line x1="885" x2="885" y1="3059.8" y2="3055.4" stroke="#141414" stroke-width="2"/>
<line x1="1001.2" x2="1001.2" y1="3059.8" y2="3055.4" stroke="#141414" stroke-width="2"/>
<line x1="1117.3" x2="1117.3" y1="3059.8" y2="3055.4" stroke="#141414" stroke-width="2"/>
<line x1="1233.5" x2="1233.5" y1="3059.8" y2="3055.4" stroke="#141414" stroke-width="2"/>
<line x1="1349.7" x2="1349.7" y1="3059.8" y2="3055.4" stroke="#141414" stroke-width="2"/>
<polyline points="826.9,3036.2 862.7,3036.2 863.2,3010 863.6,2973 864.2,2915 864.8,2860.3 865.5,2840 866.1,2827 867.4,2840 868.7,2855.2 869.6,2910 870.4,2964.5 871.3,2990 872.1,3007.2 873.4,3020 874.7,3029.4 876,3032 877.2,3032.8 878.5,3028 879.8,3022.6 882.4,3021.7 885,3024 888.3,3026 896,3026.5 903.7,3026.8 909,3028.8 914,3031.1 921,3032 929.3,3032 933.5,3031 937.9,3029.4 944,3024 950,3018.3 956.7,3009 963,2999.5 969,2989 974,2979.5 978.4,2968.5 981.5,2950 984.6,2918 986.3,2881 987.7,2837.5 989.3,2791 990.8,2744.5 991.8,2711 992.7,2691 993.8,2706 995,2732.5 996.5,2801 998,2868.5 999.5,2936 1001,2992.5 1003,3013 1005,3023.3 1008.5,3028.8 1012.5,3032.5 1020,3034.7 1031,3035.7 1077.5,3035.2 1079.5,3030.7 1081,3026.3 1082.5,3030.7 1084,3035.2 1090,3036.2 1407.6,3036.2" fill="none" stroke="#141414" stroke-width="2.6" stroke-linejoin="round" stroke-linecap="butt"/>
<line x1="1052.5" y1="2728.5" x2="1018.2" y2="2744.3" stroke="#141414" stroke-width="2.8"/>
<polygon points="1004.1,2750.8 1017.6,2738.3 1022.4,2748.7" fill="#141414"/>
<text x="1052" y="2722.3" font-size="33" text-anchor="start" font-weight="bold" font-family="Liberation Sans, sans-serif" textLength="71.8" lengthAdjust="spacingAndGlyphs" >EGC</text>
<text x="887.3" y="3166.1" font-size="30" text-anchor="start" font-weight="bold" font-family="Liberation Sans, sans-serif" textLength="307.8" lengthAdjust="spacingAndGlyphs" >Retention time (min)</text>
<text x="473.2" y="1158" font-size="24" text-anchor="start" font-weight="bold" font-family="Liberation Sans, sans-serif" textLength="41" lengthAdjust="spacingAndGlyphs" >leaf</text>
<text transform="scale(0.8 1)" x="662.7 681.9 701 720.2 739.3 758.5 777.7" y="1160.5" font-size="28.5" text-anchor="middle" font-weight="normal" font-family="Liberation Serif, serif" stroke="#141414" stroke-width="0.7">TRV:DFR</text>
<text x="640.5" y="1158" font-size="24" text-anchor="start" font-weight="bold" font-family="Liberation Sans, sans-serif" textLength="86.8" lengthAdjust="spacingAndGlyphs" >289/105</text>
<text x="1176.5" y="1178" font-size="24" text-anchor="start" font-weight="bold" font-family="Liberation Sans, sans-serif" textLength="40.3" lengthAdjust="spacingAndGlyphs" >leaf</text>
<text transform="scale(0.8 1)" x="1542.6 1561.7 1580.9 1600.1 1619.2 1638.4 1657.5" y="1180.5" font-size="28.5" text-anchor="middle" font-weight="normal" font-family="Liberation Serif, serif" stroke="#141414" stroke-width="0.7">TRV:DFR</text>
<text x="1342.5" y="1178" font-size="24" text-anchor="start" font-weight="bold" font-family="Liberation Sans, sans-serif" textLength="86" lengthAdjust="spacingAndGlyphs" >305/125</text>
<text x="474.5" y="1631" font-size="24" text-anchor="start" font-weight="bold" font-family="Liberation Sans, sans-serif" textLength="41" lengthAdjust="spacingAndGlyphs" >leaf</text>
<text transform="scale(0.8 1)" x="671.6 690.7 709.8 728.9 748.1 767.2" y="1633.5" font-size="30" text-anchor="middle" font-weight="normal" font-family="Liberation Serif, serif" stroke="#141414" stroke-width="0.7">TRV:00</text>
<text x="633" y="1631" font-size="24" text-anchor="start" font-weight="bold" font-family="Liberation Sans, sans-serif" textLength="85.5" lengthAdjust="spacingAndGlyphs" >289/105</text>
<text x="1158.3" y="1653" font-size="24" text-anchor="start" font-weight="bold" font-family="Liberation Sans, sans-serif" textLength="40.3" lengthAdjust="spacingAndGlyphs" >leaf</text>
<text transform="scale(0.8 1)" x="1522 1541.1 1560.1 1579.1 1598.2 1617.2" y="1654.5" font-size="30" text-anchor="middle" font-weight="normal" font-family="Liberation Serif, serif" stroke="#141414" stroke-width="0.7">TRV:00</text>
<text x="1317" y="1653" font-size="24" text-anchor="start" font-weight="bold" font-family="Liberation Sans, sans-serif" textLength="85.3" lengthAdjust="spacingAndGlyphs" >305/125</text>
<text x="422.5" y="2184" font-size="24" text-anchor="start" font-weight="bold" font-family="Liberation Sans, sans-serif" textLength="57" lengthAdjust="spacingAndGlyphs" >Fiber</text>
<text transform="scale(0.8 1)" x="622.2 641.6 661.1 680.5 699.9 719.4 738.8" y="2186.5" font-size="28.5" text-anchor="middle" font-weight="normal" font-family="Liberation Serif, serif" stroke="#141414" stroke-width="0.7">TRV:DFR</text>
<text x="608.5" y="2184" font-size="24" text-anchor="start" font-weight="bold" font-family="Liberation Sans, sans-serif" textLength="87.8" lengthAdjust="spacingAndGlyphs" >289/105</text>
<text x="1123.2" y="2184" font-size="24" text-anchor="start" font-weight="bold" font-family="Liberation Sans, sans-serif" textLength="60" lengthAdjust="spacingAndGlyphs" >Fiber</text>
<text transform="scale(0.8 1)" x="1502.1 1521.2 1540.3 1559.4 1578.5 1597.6 1616.7" y="2186.5" font-size="28.5" text-anchor="middle" font-weight="normal" font-family="Liberation Serif, serif" stroke="#141414" stroke-width="0.7">TRV:DFR</text>
<text x="1307.2" y="2184" font-size="24" text-anchor="start" font-weight="bold" font-family="Liberation Sans, sans-serif" textLength="90.3" lengthAdjust="spacingAndGlyphs" >305/125</text>
<text x="437" y="2679" font-size="24" text-anchor="start" font-weight="bold" font-family="Liberation Sans, sans-serif" textLength="58.2" lengthAdjust="spacingAndGlyphs" >Fiber</text>
<text transform="scale(0.8 1)" x="640.8 659.9 679 698 717.1 736.2" y="2681.5" font-size="30" text-anchor="middle" font-weight="normal" font-family="Liberation Serif, serif" stroke="#141414" stroke-width="0.7">TRV:00</text>
<text x="619.5" y="2679" font-size="24" text-anchor="start" font-weight="bold" font-family="Liberation Sans, sans-serif" textLength="88" lengthAdjust="spacingAndGlyphs" >289/105</text>
<text x="1137" y="2674" font-size="24" text-anchor="start" font-weight="bold" font-family="Liberation Sans, sans-serif" textLength="58.6" lengthAdjust="spacingAndGlyphs" >Fiber</text>
<text transform="scale(0.8 1)" x="1515.8 1534.9 1554 1573 1592.1 1611.2" y="2676.5" font-size="30" text-anchor="middle" font-weight="normal" font-family="Liberation Serif, serif" stroke="#141414" stroke-width="0.7">TRV:00</text>
<text x="1319.5" y="2674" font-size="24" text-anchor="start" font-weight="bold" font-family="Liberation Sans, sans-serif" textLength="88" lengthAdjust="spacingAndGlyphs" >305/125</text>
<g transform="translate(72 455.2) rotate(-90)"><text x="0" y="0" font-size="33" font-weight="bold" font-family="Liberation Sans, sans-serif" textLength="130.6" lengthAdjust="spacingAndGlyphs">Intensity</text><text x="177.5" y="0" font-size="33" font-weight="bold" font-family="Liberation Sans, sans-serif" textLength="75.2" lengthAdjust="spacingAndGlyphs">Kcps</text><path d="M173.2 -26C157.2 -18 157.2 -7 173.2 1.2" fill="none" stroke="#141414" stroke-width="2.1" stroke-linecap="round"/><path d="M259.3 -26C273.3 -18 273.3 -7 259.3 1.2" fill="none" stroke="#141414" stroke-width="2.1" stroke-linecap="round"/></g>
<g transform="translate(64 903.7) rotate(-90)"><text x="0" y="0" font-size="33" font-weight="bold" font-family="Liberation Sans, sans-serif" textLength="129.8" lengthAdjust="spacingAndGlyphs">Intensity</text><text x="178.2" y="0" font-size="33" font-weight="bold" font-family="Liberation Sans, sans-serif" textLength="75.8" lengthAdjust="spacingAndGlyphs">Kcps</text><path d="M174.5 -26C158.5 -18 158.5 -7 174.5 1.2" fill="none" stroke="#141414" stroke-width="2.1" stroke-linecap="round"/><path d="M260.2 -26C274.6 -18 274.6 -7 260.2 1.2" fill="none" stroke="#141414" stroke-width="2.1" stroke-linecap="round"/></g>
<text transform="translate(61.6 1447.6) rotate(-90)" x="0" y="0" font-size="33" font-weight="bold" font-family="Liberation Sans, sans-serif" textLength="246.3" lengthAdjust="spacingAndGlyphs">Intensity (Kcps)</text>
<text transform="translate(61.6 1957.7) rotate(-90)" x="0" y="0" font-size="33" font-weight="bold" font-family="Liberation Sans, sans-serif" textLength="246.4" lengthAdjust="spacingAndGlyphs">Intensity (Kcps)</text>
<text transform="translate(58 2466) rotate(-90)" x="0" y="0" font-size="33" font-weight="bold" font-family="Liberation Sans, sans-serif" textLength="247.6" lengthAdjust="spacingAndGlyphs">Intensity (Kcps)</text>
<text transform="translate(55.7 2966) rotate(-90)" x="0" y="0" font-size="33" font-weight="bold" font-family="Liberation Sans, sans-serif" textLength="247.6" lengthAdjust="spacingAndGlyphs">Intensity (Kcps)</text>
<text transform="translate(2 79.5) scale(0.65 1)" x="0" y="0" font-size="72" font-weight="bold" font-family="Liberation Serif, serif">A</text>
<text transform="translate(-3.5 1118.5) scale(0.73 1)" x="0" y="0" font-size="70" font-weight="normal" font-family="Liberation Serif, serif" stroke="#141414" stroke-width="0.6">B</text>
<text transform="translate(-1.5 2161.5) scale(0.72 1)" x="0" y="0" font-size="70" font-weight="normal" font-family="Liberation Serif, serif" stroke="#141414" stroke-width="0.6">C</text>
</svg>
</body></html>
